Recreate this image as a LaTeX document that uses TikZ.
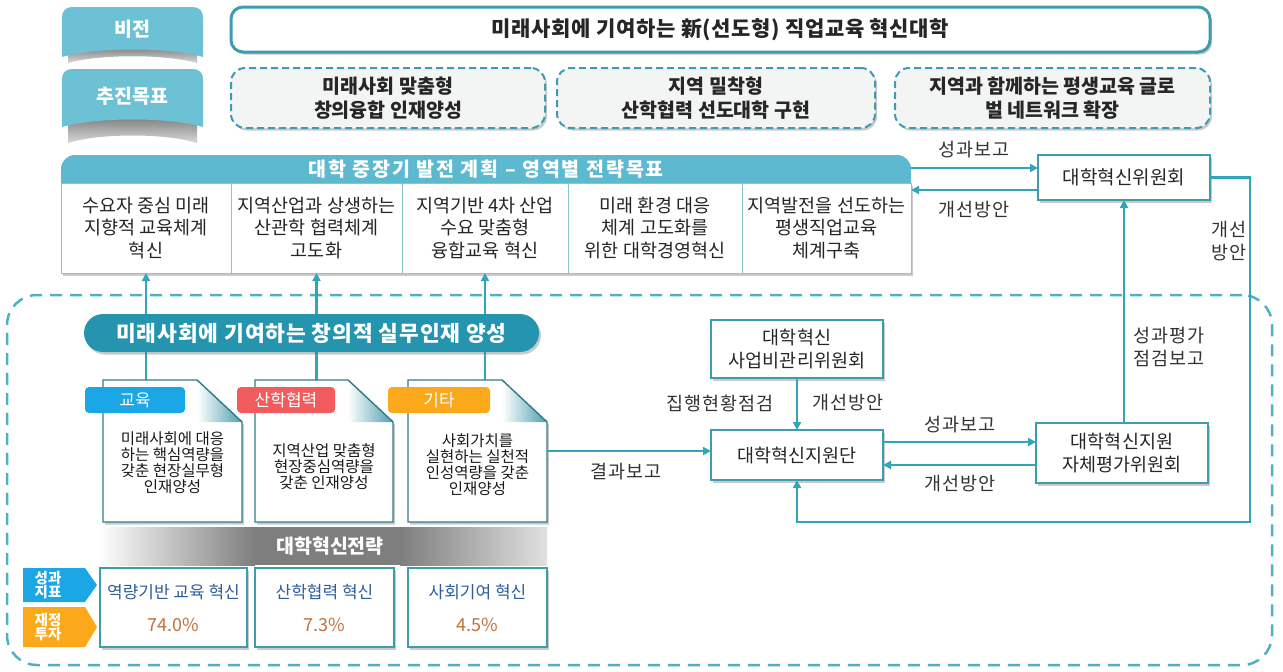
\documentclass[tikz,border=0pt]{standalone}
\usepackage{fontspec}
\setmainfont{Noto Sans CJK KR}
\usetikzlibrary{arrows.meta,shadows,calc}
\definecolor{teal1}{HTML}{31A6B8}
\definecolor{badge}{HTML}{6DC1D4}
\definecolor{hdr}{HTML}{5DB9CF}
\definecolor{banner}{HTML}{2595AF}
\definecolor{bord}{HTML}{3F9CAE}
\definecolor{dashc}{HTML}{4DB1C2}
\definecolor{tabblue}{HTML}{1BA6E6}
\definecolor{tabred}{HTML}{F25C5C}
\definecolor{taborange}{HTML}{FBA81B}
\definecolor{txtblue}{HTML}{2E5E9E}
\definecolor{pct}{HTML}{C2703D}
\definecolor{goalfill}{HTML}{F3F4F4}
\definecolor{lbltxt}{HTML}{333333}
\definecolor{stratgray}{HTML}{7E7E7E}
\newcommand\fz[2]{\fontsize{#1}{#2}\selectfont}
\newcommand\lsp[1]{\addfontfeature{LetterSpace=#1}}
\tikzset{
  every node/.style={inner sep=0pt, outer sep=0pt},
  conn/.style={draw=teal1, line width=2.2pt},
  arr/.style={conn, -{Triangle[length=8pt,width=8pt]}},
  shad/.style={drop shadow={shadow xshift=2pt, shadow yshift=-2.5pt, opacity=0.35, fill=black!60}},
  wbox/.style={draw=bord, line width=1.6pt, fill=white, shad, align=center, text=black!85, font=\fz{18.5}{23}},
  lbl/.style={font=\fz{18.5}{23}\lsp{5}, align=center, text=lbltxt},
  goalbox/.style={draw=bord, line width=2pt, dash pattern=on 7pt off 4pt, rounded corners=14pt, fill=goalfill, shad, minimum height=60pt, align=center, font=\fz{19.5}{24}\bfseries, text=black!85},
  coltxt/.style={font=\fz{18.5}{22.5}, align=center, text=black!85},
  docshape/.style={draw=bord!80!black, line width=1.3pt, fill=white, shad},
  tabbox/.style={rounded corners=4pt, minimum height=26pt, text=white, font=\fz{17}{19}},
  doctxt/.style={font=\fz{15.5}{16}, align=center, text=black!90},
  btmbox/.style={draw=bord, line width=1.5pt, fill=white, shad, minimum height=79pt},
  tagtxt/.style={font=\fz{14.5}{14}\bfseries, align=center, text=white},
}
\begin{document}
\begin{tikzpicture}[x=1pt,y=-1pt]
\useasboundingbox (0,0) rectangle (1283,672);

% ---------- badges ----------
\shade[top color=black!65, bottom color=black!15]
  (68,50) .. controls (100,40) and (165,40) .. (197,50) -- (197,63) .. controls (165,54) and (100,54) .. (68,63) -- cycle;
\fill[badge] (62,57) -- (62,17) .. controls (62,11) and (66,7) .. (72,7) -- (193,7) .. controls (199,7) and (203,11) .. (203,17) -- (203,57) .. controls (170,47) and (95,47) .. (62,57) -- cycle;
\node[text=white, font=\fz{19.5}{22}\bfseries] (bvision) at (132.5,29) {비전};

\shade[top color=black!65, bottom color=black!15]
  (68,116) .. controls (100,106) and (165,106) .. (197,116) -- (197,143) .. controls (165,133) and (100,133) .. (68,143) -- cycle;
\fill[badge] (62,127) -- (62,79) .. controls (62,73) and (66,69) .. (72,69) -- (193,69) .. controls (199,69) and (203,73) .. (203,79) -- (203,127) .. controls (170,117) and (95,117) .. (62,127) -- cycle;
\node[text=white, font=\fz{19.5}{22}\bfseries] (bgoal) at (132.5,96) {추진목표};

% ---------- vision ----------
\node[draw=bord, line width=3pt, rounded corners=12pt, fill=white, shad, minimum width=979pt, minimum height=45pt, font=\fz{21}{24}\bfseries\lsp{3}, text=black!85] (vision) at (720.5,29.5) {미래사회에 기여하는 新(선도형) 직업교육 혁신대학};

% ---------- goals ----------
\node[goalbox, minimum width=314pt] (g1) at (388,98) {미래사회 맞춤형\\창의융합 인재양성};
\node[goalbox, minimum width=318pt] (g2) at (716,98) {지역 밀착형\\산학협력 선도대학 구현};
\node[goalbox, minimum width=315pt] (g3) at (1052.5,98) {지역과 함께하는 평생교육 글로\\벌 네트워크 확장};

% ---------- outer dashed region ----------
\node[draw=dashc, line width=2.5pt, dash pattern=on 12pt off 8pt, rounded corners=30pt, minimum width=1265pt, minimum height=370pt] (outer) at (639.5,480) {};

% ---------- plan ----------
\node[fill=hdr, rounded corners=14pt, minimum width=850pt, minimum height=40pt] (hdr) at (486,175) {};
\node[draw=bord!60, line width=1pt, fill=white, shad, minimum width=850pt, minimum height=90pt] (plan) at (486,228) {};
\node[text=white, font=\fz{19.5}{22}\bfseries\lsp{10}] (hdrtxt) at (486,169) {대학 중장기 발전 계획 – 영역별 전략목표};
\draw[bord!60, line width=1pt] (231,183) -- (231,273) (402,183) -- (402,273) (568,183) -- (568,273) (742,183) -- (742,273);
\node[coltxt] (c1) at (146,228) {수요자 중심 미래\\지향적 교육체계\\혁신};
\node[coltxt] (c2) at (316.5,228) {지역산업과 상생하는\\산관학 협력체계\\고도화};
\node[coltxt] (c3) at (485,228) {지역기반 4차 산업\\수요 맞춤형\\융합교육 혁신};
\node[coltxt] (c4) at (655,228) {미래 환경 대응\\체계 고도화를\\위한 대학경영혁신};
\node[coltxt] (c5) at (826.5,228) {지역발전을 선도하는\\평생직업교육\\체계구축};

% ---------- committee ----------
\node[wbox, font=\fz{19}{23}, minimum width=172pt, minimum height=45pt] (cmte) at (1124,177.5) {대학혁신위원회};
\coordinate (cA) at ($(cmte.west)+(0,-9.5)$);
\coordinate (cB) at ($(cmte.west)+(0,12.5)$);
\draw[arr] (cA -| plan.east) -- (cA);
\draw[arr] (cB) -- (cB -| plan.east);
\node[lbl] (l1) at (974,150) {성과보고};
\node[lbl] (l2) at (974,210) {개선방안};

% ---------- docs ----------
\node[minimum width=139pt, minimum height=142pt] (doc1) at (172.5,451) {};
\node[minimum width=138pt, minimum height=142pt] (doc2) at (324,451) {};
\node[minimum width=139pt, minimum height=142pt] (doc3) at (477.5,451) {};

\draw[arr] (doc1.north -| c1) -- (plan.south -| c1);
\draw[arr] (doc2.north -| c2) -- (plan.south -| c2);
\draw[arr] (doc3.north -| c3) -- (plan.south -| c3);

\node[fill=banner, rounded corners=19pt, shad, minimum width=455pt, minimum height=38pt, text=white, font=\fz{21.5}{24}\bfseries\lsp{4}] (tbanner) at (311.5,333) {미래사회에 기여하는 창의적 실무인재 양성};

\foreach \d in {doc1,doc2,doc3}{
  \draw[docshape] (\d.north west) -- ($(\d.north east)+(-45,0)$) -- ($(\d.north east)+(0,42)$) -- (\d.south east) -- (\d.south west) -- cycle;
  \shade[left color=white, right color=hdr!85!black] ($(\d.north east)+(-45,0)$) -- ($(\d.north east)+(0,42)$) -- ($(\d.north east)+(-45,42)$) -- cycle;
  \draw[bord!80!black, line width=1.3pt] ($(\d.north east)+(-45,0)$) -- ($(\d.north east)+(0,42)$);
}
\node[tabbox, fill=tabblue, minimum width=100pt] (tab1) at (135,400) {교육};
\node[tabbox, fill=tabred, minimum width=98pt] (tab2) at (286,400) {산학협력};
\node[tabbox, fill=taborange, minimum width=102pt] (tab3) at (439,400) {기타};
\node[doctxt] (d1t) at (172.5,463) {미래사회에 대응\\하는 핵심역량을\\갖춘 현장실무형\\인재양성};
\node[doctxt] (d2t) at (324,467) {지역산업 맞춤형\\현장중심역량을\\갖춘 인재양성};
\node[doctxt] (d3t) at (477.5,465) {사회가치를\\실현하는 실천적\\인성역량을 갖춘\\인재양성};

% ---------- strategy band ----------
\shade[left color=white, right color=stratgray] (98,527) rectangle (255,565);
\fill[stratgray] (255,527) rectangle (400,565);
\shade[left color=stratgray, right color=black!12] (400,527) rectangle (547,565);
\node[text=white, font=\fz{19.5}{22}\bfseries] (strat) at (330,546) {대학혁신전략};

% ---------- bottom table ----------
\fill[tabblue] (23,568) -- (85,568) -- (97,585) -- (85,602) -- (23,602) -- cycle;
\fill[taborange] (23,607) -- (85,607) -- (97,627) -- (85,647) -- (23,647) -- cycle;
\node[tagtxt] (tag1) at (48,585) {성과\\지표};
\node[tagtxt] (tag2) at (48,627) {재정\\투자};
\node[btmbox, minimum width=147pt] (b1) at (173.5,607.5) {};
\node[btmbox, minimum width=139pt] (b2) at (324.5,607.5) {};
\node[btmbox, minimum width=139pt] (b3) at (477.5,607.5) {};
\node[text=txtblue, font=\fz{17}{19}] (b1t) at ($(b1)+(0,-15.5)$) {역량기반 교육 혁신};
\node[text=txtblue, font=\fz{17}{19}] (b2t) at ($(b2)+(0,-15.5)$) {산학협력 혁신};
\node[text=txtblue, font=\fz{17}{19}] (b3t) at ($(b3)+(0,-15.5)$) {사회기여 혁신};
\node[text=pct, font=\fz{18}{20}] (b1p) at ($(b1)+(0,17.5)$) {74.0\%};
\node[text=pct, font=\fz{18}{20}] (b2p) at ($(b2)+(0,17.5)$) {7.3\%};
\node[text=pct, font=\fz{18}{20}] (b3p) at ($(b3)+(0,17.5)$) {4.5\%};

% ---------- right side ----------
\node[wbox, minimum width=172pt, minimum height=58pt] (budget) at (797,349) {대학혁신\\사업비관리위원회};
\node[wbox, minimum width=172pt, minimum height=50pt] (center) at (797,455) {대학혁신지원단};
\node[wbox, minimum width=172pt, minimum height=60pt] (self) at (1122,453) {대학혁신지원\\자체평가위원회};

\draw[arr] (budget.south) -- (center.north);
\node[lbl] (l3) at (720,403) {집행현황점검};
\node[lbl] (l4) at (848,403) {개선방안};

\draw[arr] (doc3.east) -- (doc3.east -| center.west);
\node[lbl] (l5) at (626,472) {결과보고};

\coordinate (sA) at ($(self.west)+(0,-11)$);
\coordinate (sB) at ($(self.west)+(0,12)$);
\draw[arr] (sA -| center.east) -- (sA);
\draw[arr] (sB) -- (sB -| center.east);
\node[lbl] (l6) at (960,425) {성과보고};
\node[lbl] (l7) at (960,484) {개선방안};

\draw[arr] (self.north -| cmte.south) -- (cmte.south);
\node[lbl] (l8) at (1169,347) {성과평가\\점검보고};

\coordinate (loopR) at (1250,522);
\draw[arr] (cmte.east) -| (loopR) -| (center.south);
\node[lbl] (l9) at (1229,241) {개선\\방안};
\end{tikzpicture}
\end{document}
